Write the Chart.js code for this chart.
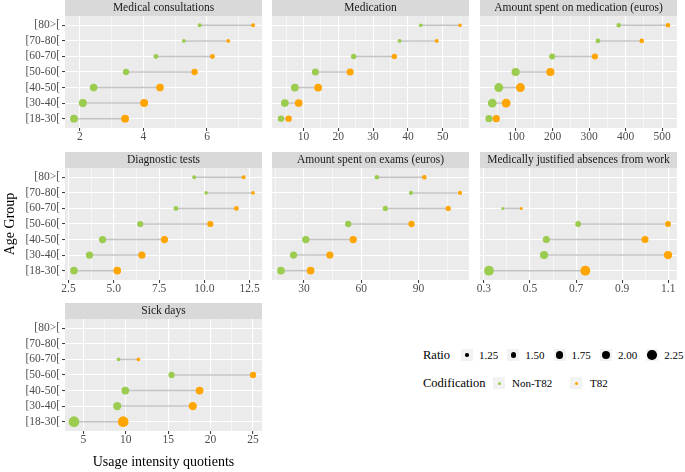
<!DOCTYPE html>
<html>
<head>
<meta charset="utf-8">
<script src="https://cdn.jsdelivr.net/npm/chart.js@4.4.1/dist/chart.umd.min.js"></script>
<style>
html, body { margin: 0; padding: 0; background: #fff; }
#wrap { position: relative; width: 685px; height: 472px; overflow: hidden; font-family: 'Liberation Serif', 'DejaVu Serif', serif; }
#wrap canvas { position: absolute; }
.lg { position: absolute; white-space: nowrap; color: #000; line-height: 1; }
.lg-title { font-size: 12.5px; }
.lg-text { font-size: 11px; }
.key { position: absolute; width: 12px; height: 12px; background: #F2F2F2; }
.dot { position: absolute; border-radius: 50%; }
</style>
</head>
<body>
<div id="wrap"></div>
<script>
'use strict';

// rows from [18-30[ (bottom) to [80>[ (top); null = no value
const AGE_GROUPS = ['[18-30[', '[30-40[', '[40-50[', '[50-60[', '[60-70[', '[70-80[', '[80>['];

const consultNon   = [1.81, 2.09, 2.43, 3.45, 4.39, 5.27, 5.77];
const consultT82   = [3.42, 4.02, 4.52, 5.61, 6.17, 6.67, 7.45];
const medNon       = [3.5, 4.6, 7.5, 13.4, 24.4, 37.6, 43.7];
const medT82       = [5.7, 8.6, 14.2, 23.4, 36.1, 48.3, 55.0];
const medCostNon   = [26, 35, 53, 99, 199, 324, 381];
const medCostT82   = [46, 73, 112, 194, 316, 444, 516];
const diagNon      = [2.80, 3.66, 4.38, 6.46, 8.43, 10.10, 9.44];
const diagT82      = [5.19, 6.55, 7.80, 10.33, 11.77, 12.69, 12.17];
const examCostNon  = [18.0, 24.6, 31.0, 53.2, 72.6, 86.0, 68.2];
const examCostT82  = [33.5, 43.6, 55.8, 86.3, 105.5, 111.7, 93.0];
const absenceNon   = [0.322, 0.561, 0.571, 0.709, 0.382, null, null];
const absenceT82   = [0.740, 1.099, 0.999, 1.099, 0.462, null, null];
const sickNon      = [3.9, 9.0, 9.95, 15.4, 9.15, null, null];
const sickT82      = [9.7, 17.9, 18.7, 25.0, 11.5, null, null];

const consultTicks  = ['2', '4', '6'];
const medTicks      = ['10', '20', '30', '40', '50'];
const medCostTicks  = ['100', '200', '300', '400', '500'];
const diagTicks     = ['2.5', '5.0', '7.5', '10.0', '12.5'];
const examCostTicks = ['30', '60', '90'];
const absenceTicks  = ['0.3', '0.5', '0.7', '0.9', '1.1'];
const sickTicks     = ['5', '10', '15', '20', '25'];

const RATIO_BREAKS = ['1.25', '1.50', '1.75', '2.00', '2.25'];
const CODIFICATIONS = ['Non-T82', 'T82'];

const PANELS = [
    { title: 'Medical consultations',                  non: consultNon,  t82: consultT82,  ticks: consultTicks,  col: 0, row: 0 },
    { title: 'Medication',                             non: medNon,      t82: medT82,      ticks: medTicks,      col: 1, row: 0 },
    { title: 'Amount spent on medication (euros)',     non: medCostNon,  t82: medCostT82,  ticks: medCostTicks,  col: 2, row: 0 },
    { title: 'Diagnostic tests',                       non: diagNon,     t82: diagT82,     ticks: diagTicks,     col: 0, row: 1 },
    { title: 'Amount spent on exams (euros)',          non: examCostNon, t82: examCostT82, ticks: examCostTicks, col: 1, row: 1 },
    { title: 'Medically justified absences from work', non: absenceNon,  t82: absenceT82,  ticks: absenceTicks,  col: 2, row: 1 },
    { title: 'Sick days',                              non: sickNon,     t82: sickT82,     ticks: sickTicks,     col: 0, row: 2 },
];

// ---- look ----
const SERIF = "'Liberation Serif', 'DejaVu Serif', serif";
const GREEN = '#9BCB4F';
const ORANGE = '#FFA500';
const SEG = '#C4C4C4';
const PANEL_BG = '#EBEBEB';
const STRIP_BG = '#D9D9D9';

const COL_X = [65, 272, 480];
const ROW_Y = [0, 152, 303];
const PANEL_W = 197;
const PANEL_H = 112;
const STRIP_H = 16;
const Y_AXIS_W = 65;
const PAD = 16;
const H = 472;

// size scale shared by all panels
const allRatios = [];
PANELS.forEach(p => p.non.forEach((v, i) => { if (v != null) allRatios.push(p.t82[i] / v); }));
const RMIN = Math.min(...allRatios);
const RMAX = Math.max(...allRatios);
function radiusFor(ratio) {
    const t = Math.max(0, Math.min(1, (ratio - RMIN) / (RMAX - RMIN)));
    return 1.5 + 3.85 * Math.pow(t, 0.75);
}

const panelBg = {
    id: 'panelBg',
    beforeDraw(chart) {
        const { ctx, chartArea: a } = chart;
        const tb = chart.titleBlock;
        ctx.save();
        ctx.fillStyle = PANEL_BG;
        ctx.fillRect(a.left, a.top, a.right - a.left, a.bottom - a.top);
        if (tb) {
            ctx.fillStyle = STRIP_BG;
            ctx.fillRect(a.left, tb.top, a.right - a.left, tb.bottom - tb.top);
        }
        ctx.restore();
    }
};

function buildTicks(labels, min, max) {
    const majors = labels.map(Number);
    const step = majors[1] - majors[0];
    const out = majors.map((v, i) => ({ value: v, lbl: labels[i], minor: false }));
    for (let m = majors[0] - step / 2; m <= majors[majors.length - 1] + step / 2 + 1e-9; m += step) {
        if (m >= min && m <= max) out.push({ value: m, lbl: '', minor: true });
    }
    return out.sort((a, b) => a.value - b.value);
}

function makePanel(p) {
    const wrap = document.getElementById('wrap');
    const canvas = document.createElement('canvas');
    const first = p.col === 0;
    const xTitle = p.title === 'Sick days';
    const yTitle = first && p.row === 1;

    const left = first ? 0 : COL_X[p.col] - PAD;
    const width = COL_X[p.col] + PANEL_W + PAD - left;
    const top = ROW_Y[p.row];
    const xAxisH = xTitle ? H - (top + STRIP_H + PANEL_H) : 20;
    const height = STRIP_H + PANEL_H + xAxisH;

    canvas.width = width; canvas.height = height;
    canvas.style.left = left + 'px'; canvas.style.top = top + 'px';
    canvas.style.width = width + 'px'; canvas.style.height = height + 'px';
    wrap.appendChild(canvas);

    // ggplot-like 5% expansion
    const vals = p.non.concat(p.t82).filter(v => v != null);
    const lo = Math.min(...vals), hi = Math.max(...vals);
    const xmin = lo - 0.05 * (hi - lo), xmax = hi + 0.05 * (hi - lo);

    const datasets = [];
    p.non.forEach((v, i) => {
        if (v == null) return;
        datasets.push({
            data: [{ x: v, y: i }, { x: p.t82[i], y: i }],
            showLine: true, borderColor: SEG, borderWidth: 1.5,
            pointRadius: 0, order: 3
        });
    });
    const rowRadius = ctx => radiusFor(p.t82[ctx.raw.y] / p.non[ctx.raw.y]);
    const pts = arr => arr.map((v, i) => v == null ? null : { x: v, y: i }).filter(d => d);
    datasets.push({ label: CODIFICATIONS[0], data: pts(p.non), backgroundColor: GREEN, borderWidth: 0, pointBorderWidth: 0, pointRadius: rowRadius, order: 1 });
    datasets.push({ label: CODIFICATIONS[1], data: pts(p.t82), backgroundColor: ORANGE, borderWidth: 0, pointBorderWidth: 0, pointRadius: rowRadius, order: 0 });

    new Chart(canvas, {
        type: 'scatter',
        data: { datasets },
        options: {
            responsive: false,
            animation: false,
            devicePixelRatio: 1,
            events: [],
            layout: { padding: { left: first ? 0 : PAD, right: PAD, top: 0, bottom: 0 } },
            plugins: {
                legend: { display: false },
                tooltip: { enabled: false },
                title: {
                    display: true, text: p.title, fullSize: false, padding: 0,
                    color: '#1A1A1A', font: { family: SERIF, size: 11.5, weight: 'normal', lineHeight: STRIP_H + 'px' }
                }
            },
            scales: {
                x: {
                    type: 'linear', min: xmin, max: xmax,
                    border: { display: false },
                    afterBuildTicks: s => { s.ticks = buildTicks(p.ticks, xmin, xmax); },
                    afterFit: s => { s.height = xAxisH; },
                    grid: {
                        color: '#fff',
                        lineWidth: c => (c.tick && c.tick.minor) ? 0.55 : 1.1,
                        tickLength: 3, tickWidth: 1,
                        tickColor: c => (c.tick && c.tick.minor) ? 'rgba(0,0,0,0)' : '#333'
                    },
                    ticks: {
                        autoSkip: false, maxRotation: 0, padding: 0,
                        color: '#4D4D4D', font: { family: SERIF, size: 11.5, lineHeight: 1 },
                        callback: (v, i, ticks) => ticks[i].lbl
                    },
                    title: {
                        display: xTitle, text: 'Usage intensity quotients', color: '#000',
                        font: { family: SERIF, size: 14 }, padding: { top: 0, bottom: 1 }
                    }
                },
                y: {
                    type: 'linear', min: -0.6, max: AGE_GROUPS.length - 0.4,
                    border: { display: false },
                    afterBuildTicks: s => { s.ticks = AGE_GROUPS.map((g, i) => ({ value: i })); },
                    afterFit: s => { s.width = first ? Y_AXIS_W : 0; },
                    grid: { color: '#fff', lineWidth: 1.1, drawTicks: first, tickLength: 3, tickWidth: 1, tickColor: '#333' },
                    ticks: {
                        display: first, autoSkip: false, padding: 2,
                        color: '#4D4D4D', font: { family: SERIF, size: 11.5 },
                        callback: v => AGE_GROUPS[v]
                    },
                    title: {
                        display: yTitle, text: 'Age Group', color: '#000',
                        font: { family: SERIF, size: 14 }, padding: { top: 2, bottom: 0 }
                    }
                }
            }
        },
        plugins: [panelBg]
    });
}

PANELS.forEach(makePanel);

// legend (ggplot-style guide boxes)
function addEl(cls, text, css) {
    const el = document.createElement('div');
    el.className = cls;
    if (text) el.textContent = text;
    Object.assign(el.style, css);
    document.getElementById('wrap').appendChild(el);
    return el;
}
function addKey(cx, cy, r, color) {
    addEl('key', '', { left: (cx - 6) + 'px', top: (cy - 6) + 'px' });
    addEl('dot', '', { left: (cx - r) + 'px', top: (cy - r) + 'px', width: 2 * r + 'px', height: 2 * r + 'px', background: color });
}
addEl('lg lg-title', 'Ratio', { left: '423px', top: '349px' });
RATIO_BREAKS.forEach((b, k) => {
    const cx = 467 + k * 46.3;
    addKey(cx, 355, radiusFor(Number(b)), '#000');
    addEl('lg lg-text', b, { left: (cx + 12) + 'px', top: '350px' });
});
addEl('lg lg-title', 'Codification', { left: '423px', top: '377px' });
[[499, GREEN, 512], [576, ORANGE, 590]].forEach(([cx, col, tx], k) => {
    addKey(cx, 383, 1.5, col);
    addEl('lg lg-text', CODIFICATIONS[k], { left: tx + 'px', top: '378px' });
});
</script>
</body>
</html>
